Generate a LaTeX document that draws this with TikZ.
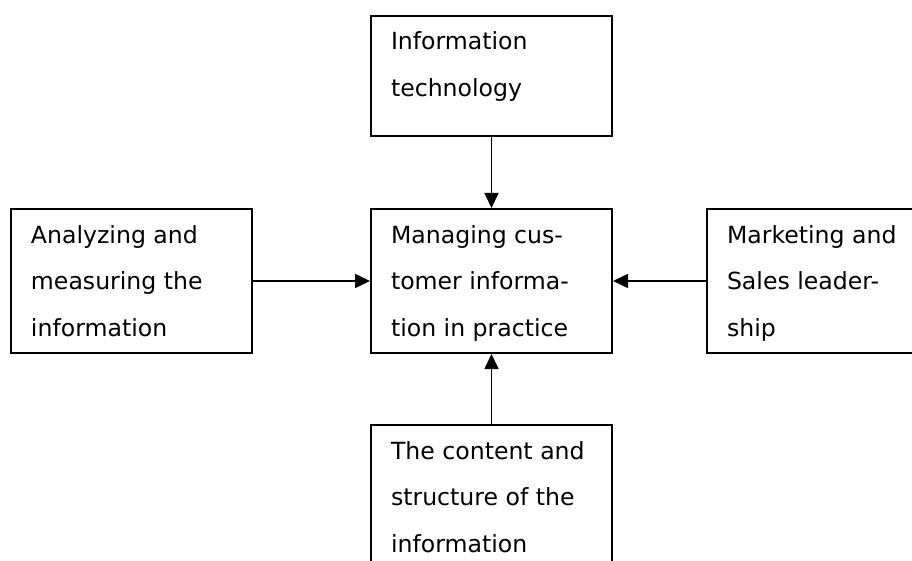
\documentclass[tikz,border=0pt]{standalone}
\usepackage{fontspec}
\newfontfamily\boxfont{DejaVu Sans}
\usetikzlibrary{arrows.meta}
% text block of a box: first baseline 34pt below the top edge, 20pt left padding
\newcommand\boxlines[3]{\parbox[c][#1][t]{#2}{\leftskip=20pt\rightskip=0pt plus 1fil\parindent=0pt\rule{0pt}{34pt}#3\par}}
\tikzset{
  blk/.style={draw, line width=2pt, inner sep=0pt, anchor=north west,
    font=\boxfont\fontsize{23.6pt}{46.5pt}\selectfont},
  arr/.style={line width=1.7pt, -{Triangle[length=15pt,width=14pt]}}
}
\begin{document}
\begin{tikzpicture}[x=1pt,y=-1pt]
\useasboundingbox (0,0) rectangle (912,561);
\clip (0,0) rectangle (912,561);
\node[blk] (itech) at (370,15) {\boxlines{120pt}{241pt}{Information\\technology}};
\node[blk] (mgmt) at (370,208) {\boxlines{144pt}{241pt}{Managing cus-\\tomer informa-\\tion in practice}};
\node[blk] (analyz) at (10,208) {\boxlines{144pt}{241pt}{Analyzing and\\measuring the\\information}};
\node[blk] (mktg) at (706,208) {\boxlines{144pt}{241pt}{Marketing and\\Sales leader-\\ship}};
\node[blk] (content) at (370,424) {\boxlines{160pt}{241pt}{The content and\\structure of the\\information}};
\draw[arr] (itech) -- (mgmt);
\draw[arr] (analyz) -- (mgmt);
\draw[arr] (mktg) -- (mgmt);
\draw[arr] (content) -- (mgmt);
\end{tikzpicture}
\end{document}
